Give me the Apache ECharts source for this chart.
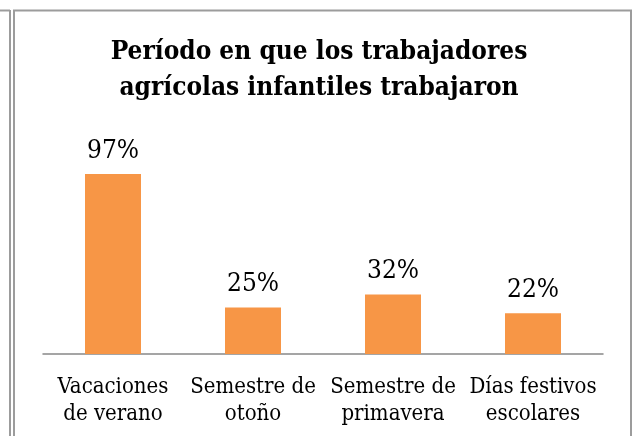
<!DOCTYPE html>
<html>
<head>
<meta charset="utf-8">
<script src="https://cdn.jsdelivr.net/npm/echarts@6/dist/echarts.min.js"></script>
<style>
html,body{margin:0;padding:0;background:#fff;}
#chart{width:638px;height:436px;}
</style>
</head>
<body>
<div id="chart"></div>
<script>
const titleText = 'Período en que los trabajadores\nagrícolas infantiles trabajaron';
const categories = ['Vacaciones\nde verano', 'Semestre de\notoño', 'Semestre de\nprimavera', 'Días festivos\nescolares'];
const values = [97, 25, 32, 22];

const chart = echarts.init(document.getElementById('chart'), null, {renderer: 'canvas'});
const serif = '"DejaVu Serif Condensed", "DejaVu Serif", serif';
const borderColor = '#9c9c9c';

chart.setOption({
  animation: false,
  title: {
    text: titleText,
    left: 'center',
    top: 29,
    textStyle: {
      fontFamily: serif,
      fontWeight: 'bold',
      fontSize: 26,
      lineHeight: 36,
      color: '#000'
    }
  },
  grid: {left: 43, right: 35, top: 168.4, bottom: 82},
  xAxis: {
    type: 'category',
    data: categories,
    axisLine: {lineStyle: {color: '#888', width: 1.5}},
    axisTick: {show: false},
    axisLabel: {
      fontFamily: serif,
      fontSize: 22,
      lineHeight: 27,
      color: '#000',
      margin: 20,
      interval: 0
    }
  },
  yAxis: {
    type: 'value',
    min: 0,
    max: 100,
    show: false,
    splitLine: {show: false}
  },
  series: [{
    type: 'bar',
    data: values,
    barWidth: '40%',
    itemStyle: {color: '#F79646'},
    label: {
      show: true,
      position: 'top',
      distance: 10,
      formatter: '{c}%',
      fontFamily: serif,
      fontSize: 26,
      color: '#000'
    }
  }],
  graphic: [
    {type: 'line', shape: {x1: 0, y1: 10.5, x2: 10, y2: 10.5}, style: {stroke: borderColor, lineWidth: 2}},
    {type: 'line', shape: {x1: 10, y1: 10, x2: 10, y2: 436}, style: {stroke: borderColor, lineWidth: 2}},
    {type: 'line', shape: {x1: 14, y1: 10, x2: 14, y2: 436}, style: {stroke: borderColor, lineWidth: 2}},
    {type: 'line', shape: {x1: 13, y1: 10.5, x2: 632, y2: 10.5}, style: {stroke: borderColor, lineWidth: 2}},
    {type: 'line', shape: {x1: 631, y1: 10, x2: 631, y2: 436}, style: {stroke: borderColor, lineWidth: 2}}
  ]
});
</script>
</body>
</html>
